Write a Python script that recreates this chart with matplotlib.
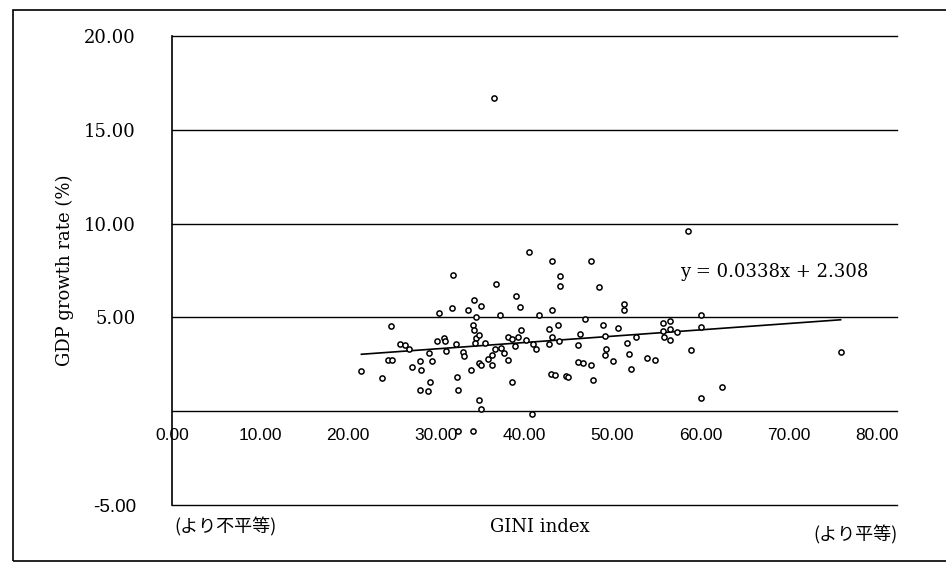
import matplotlib.pyplot as plt
from matplotlib.patches import Rectangle

# GINI index (x) and GDP growth rate % (y)
gini = [21.5, 23.8, 24.5, 25.0, 24.9, 25.9, 26.4, 26.9, 27.3, 28.1,
        28.3, 28.1, 29.1, 29.3, 29.2, 29.5, 30.3, 30.1, 30.9, 31.0,
        31.1, 31.8, 31.9, 32.2, 32.4, 32.5, 32.5, 34.2, 34.8, 35.1,
        33.0, 33.1, 34.3, 35.1, 33.6, 34.5, 34.2, 34.3, 34.5, 34.9,
        34.4, 35.5, 33.9, 34.9, 35.1, 35.9, 36.3, 36.3, 36.7, 36.8,
        37.2, 37.4, 37.7, 38.1, 38.6, 38.1, 38.6, 39.3, 38.9, 39.1,
        39.5, 39.6, 40.2, 40.5, 41.0, 41.3, 40.9, 41.7, 42.8, 43.1,
        42.8, 43.1, 43.1, 43.0, 43.5, 43.8, 44.0, 44.0, 43.9, 44.7,
        45.0, 47.6, 48.5, 46.9, 46.3, 46.1, 48.9, 49.1, 50.6, 46.1,
        46.7, 47.6, 47.8, 49.3, 49.2, 50.1, 51.3, 51.3, 51.7, 51.9,
        52.1, 52.7, 53.9, 54.8, 58.6, 60.1, 55.7, 56.5, 55.7, 56.5,
        57.3, 55.9, 56.5, 60.0, 58.9, 62.4, 60.0, 75.9, 36.5]
growth = [2.12, 1.76, 2.74, 2.74, 4.56, 3.60, 3.55, 3.34, 2.37, 2.65,
          2.22, 1.14, 1.09, 1.58, 3.09, 2.66, 5.24, 3.74, 3.90, 3.74,
          3.20, 5.52, 7.24, 3.59, 1.82, 1.12, -1.03, -1.03, 0.59, 0.11,
          3.16, 2.95, 5.91, 5.59, 5.37, 5.00, 4.57, 4.35, 3.92, 4.08,
          3.65, 3.66, 2.20, 2.58, 2.47, 2.80, 3.02, 2.48, 3.34, 6.78,
          5.15, 3.38, 3.12, 2.75, 1.58, 3.95, 3.84, 3.95, 3.46, 6.15,
          5.56, 4.33, 3.80, 8.48, 3.58, 3.32, -0.13, 5.15, 4.40, 3.97,
          3.59, 8.00, 5.37, 1.98, 1.93, 4.62, 7.20, 6.66, 3.76, 1.89,
          1.80, 7.98, 6.64, 4.91, 4.10, 3.51, 4.60, 4.01, 4.44, 2.60,
          2.55, 2.44, 1.64, 3.31, 2.99, 2.67, 5.69, 5.37, 3.65, 3.06,
          2.25, 3.98, 2.85, 2.75, 9.60, 5.15, 4.68, 4.80, 4.25, 4.36,
          4.20, 3.98, 3.82, 4.50, 3.26, 1.29, 0.68, 3.16, 16.7]

# trendline as printed on the chart
slope = 0.0338
intercept = 2.308

x_ticks = [0, 10, 20, 30, 40, 50, 60, 70, 80]
y_ticks = [-5, 5, 10, 15, 20]

serif = "DejaVu Serif"
sans = "Liberation Sans"
cjk = ["Noto Sans CJK JP", "DejaVu Sans"]

fig = plt.figure(figsize=(9.46, 5.67), dpi=100)
# outer chart frame (right side runs off the scan)
fig.patches.append(Rectangle((13 / 946, 1 - 561 / 567), 1.2, (561 - 10) / 567,
                             transform=fig.transFigure, fill=False,
                             edgecolor="black", linewidth=1.2))

ax = fig.add_axes([172 / 946, 1 - 505 / 567, 725 / 946, 469 / 567])
ax.set_xlim(0, 82.3)
ax.set_ylim(-5, 20)

for v in [-5, 0, 5, 10, 15, 20]:
    ax.axhline(v, color="black", linewidth=1.0, zorder=1, clip_on=False)

ax.scatter(gini, growth, s=14, facecolors="white", edgecolors="black",
           linewidths=1.1, zorder=3)

x0, x1 = min(gini), max(gini)
ax.plot([x0, x1], [slope * x0 + intercept, slope * x1 + intercept],
        color="black", linewidth=1.2, zorder=2)

for s in ["top", "right"]:
    ax.spines[s].set_visible(False)
ax.spines["bottom"].set_position(("data", 0))
ax.spines["bottom"].set_visible(False)
ax.spines["left"].set_linewidth(1.2)

ax.set_xticks(x_ticks)
ax.set_xticklabels([f"{t:.2f}" for t in x_ticks], fontsize=12.5, family=sans)
ax.tick_params(axis="x", length=0, pad=12)
ax.set_yticks(y_ticks)
ylabels = ax.set_yticklabels([f"{t:.2f}" for t in y_ticks], fontsize=13, family=serif)
ylabels[0].set_family(sans)
ylabels[0].set_fontsize(13.5)
ax.tick_params(axis="y", length=0, pad=26)

fig.text(65 / 946, 1 - 270 / 567, "GDP growth rate (%)", rotation=90,
         ha="center", va="center", fontsize=13, family=serif)
fig.text(540 / 946, 1 - 527 / 567, "GINI index", ha="center", va="center",
         fontsize=13, family=serif)
fig.text(225 / 946, 1 - 527 / 567, "(より不平等)", ha="center", va="center",
         fontsize=13, family=cjk)
fig.text(855 / 946, 1 - 535 / 567, "(より平等)", ha="center", va="center",
         fontsize=13, family=cjk)
ax.text(57.7, 7.4, "y = 0.0338x + 2.308", ha="left", va="center",
        fontsize=13, family=serif)

fig.savefig("out.png", dpi=100)
